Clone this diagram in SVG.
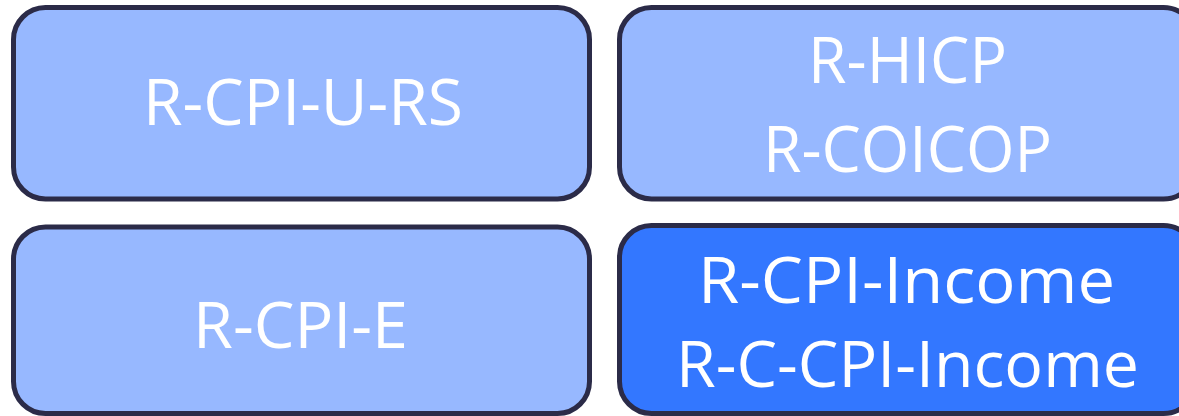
<svg xmlns="http://www.w3.org/2000/svg" width="1179" height="416" viewBox="0 0 1179 416">
<style>
.box{stroke:#2B2B48;stroke-width:5}
.light{fill:#97B8FF}
.dark{fill:#3377FF}
.t{font-family:"Open Sans","Liberation Sans",sans-serif;font-size:64px;fill:#FFFFFF;text-anchor:middle}
</style>
<rect width="1179" height="416" fill="#FFFFFF"/>
<g id="connectors"></g>
<g id="node-rcpiurs">
<rect class="box light" x="13.5" y="7.5" width="576" height="191.5" rx="32" ry="32"/>
<text class="t" x="303" y="125" textLength="320" lengthAdjust="spacingAndGlyphs">R-CPI-U-RS</text>
</g>
<g id="node-rhicp">
<rect class="box light" x="619.5" y="7.5" width="576" height="191.5" rx="32" ry="32"/>
<text class="t" x="907.5" y="83" textLength="199" lengthAdjust="spacingAndGlyphs">R-HICP</text>
<text class="t" x="907.5" y="172" textLength="289" lengthAdjust="spacingAndGlyphs">R-COICOP</text>
</g>
<g id="node-rcpie">
<rect class="box light" x="13.5" y="227" width="576" height="186.5" rx="32" ry="32"/>
<text class="t" x="300.5" y="348" textLength="215" lengthAdjust="spacingAndGlyphs">R-CPI-E</text>
</g>
<g id="node-rcpiincome">
<rect class="box dark" x="619.5" y="225.5" width="576" height="188" rx="32" ry="32"/>
<text class="t" x="906.5" y="303" textLength="417" lengthAdjust="spacingAndGlyphs">R-CPI-Income</text>
<text class="t" x="907.5" y="387" textLength="463" lengthAdjust="spacingAndGlyphs">R-C-CPI-Income</text>
</g>
</svg>
